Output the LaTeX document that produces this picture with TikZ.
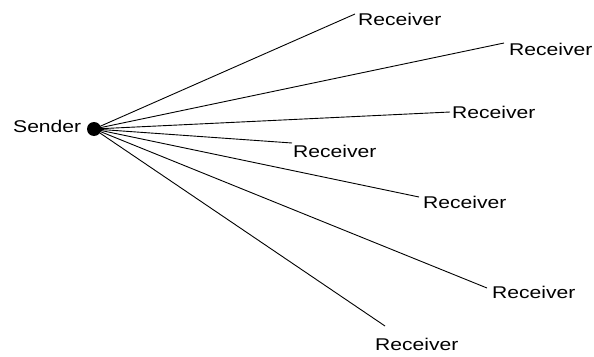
\documentclass[tikz,border=0pt]{standalone}
\usepackage{fontspec}
\setmainfont{Liberation Sans}[FakeStretch=1.24]
\begin{document}
\begin{tikzpicture}[x=1pt,y=-1pt,
  lbl/.style={anchor=base west,inner sep=0pt,font=\fontsize{17}{20}\selectfont},
  link/.style={line width=0.9pt,black}]
\useasboundingbox (0,0) rectangle (594,356);
\node[lbl] (snd) at (13,132) {Sender};
\node[circle,fill=black,minimum size=14pt,inner sep=0pt] (s) at (94,129) {};
\node[lbl] (r1) at (358,25) {Receiver};
\node[lbl] (r2) at (509,55) {Receiver};
\node[lbl] (r3) at (452,118) {Receiver};
\node[lbl] (r4) at (293,157) {Receiver};
\node[lbl] (r5) at (423,208) {Receiver};
\node[lbl] (r6) at (492,298) {Receiver};
\node[lbl] (r7) at (375,350) {Receiver};
\coordinate (e1) at (355,14);
\coordinate (e2) at (504,43);
\coordinate (e3) at (450,112);
\coordinate (e4) at (292,143);
\coordinate (e5) at (419,197);
\coordinate (e6) at (487,288);
\coordinate (e7) at (385,326);
\foreach \i in {1,...,7}{\draw[link] (s.center) -- (e\i);}
\end{tikzpicture}
\end{document}
